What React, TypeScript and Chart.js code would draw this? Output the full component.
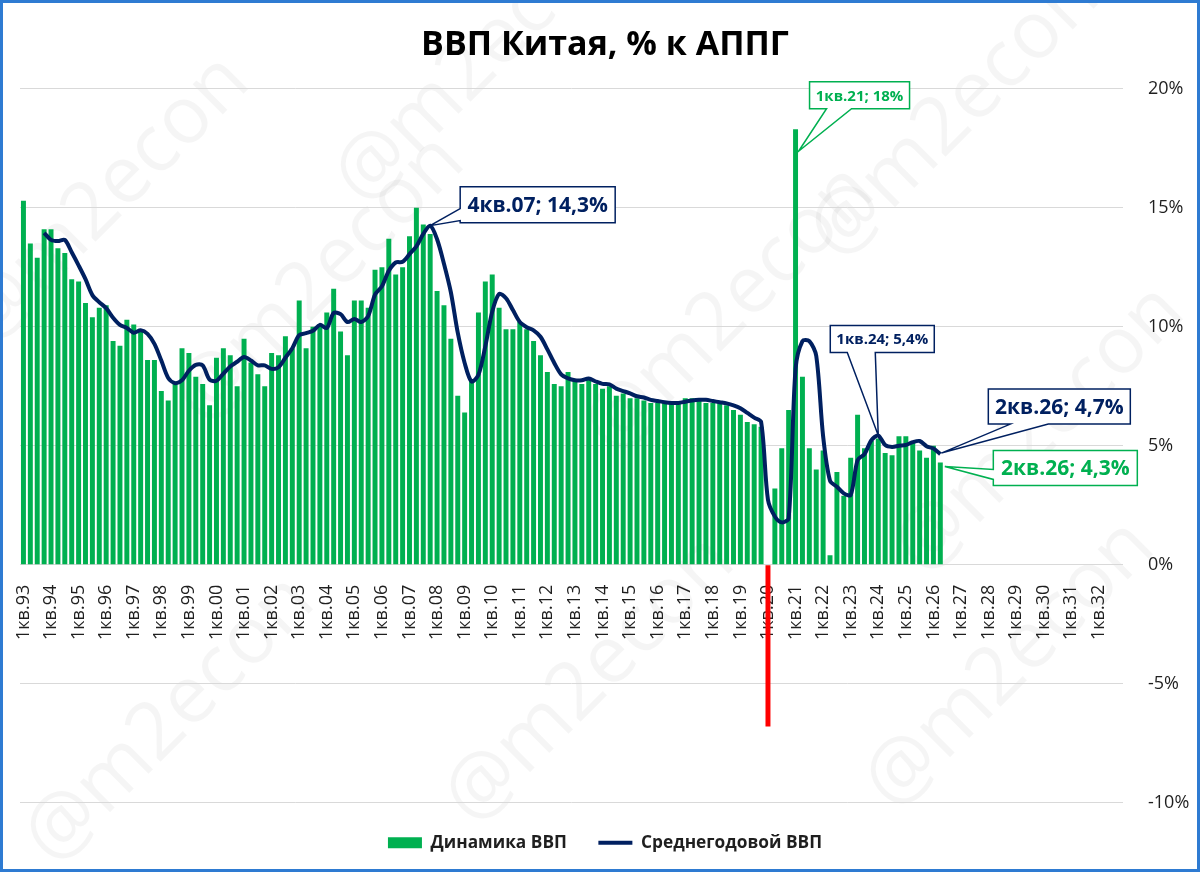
import React, { useEffect, useRef } from "react";
import { Chart, registerables } from "chart.js";

Chart.register(...registerables);

// ---------------- data ----------------
const TITLE = "ВВП Китая, % к АППГ";
const SERIES_NAMES = ["Динамика ВВП", "Среднегодовой ВВП"];
const YEARS = [
  "93", "94", "95", "96", "97", "98", "99", "00", "01", "02",
  "03", "04", "05", "06", "07", "08", "09", "10", "11", "12",
  "13", "14", "15", "16", "17", "18", "19", "20", "21", "22",
  "23", "24", "25", "26", "27", "28", "29", "30", "31", "32",
];
const QUARTERS = ["1кв.", "2кв.", "3кв.", "4кв."];
const HIGHLIGHT_LABEL = "1кв.20";
const Y_TICKS = [-10, -5, 0, 5, 10, 15, 20];

// GDP, % y/y (quarterly), 1кв.93 .. 2кв.26
const GDP_YOY = [
  15.3, 13.5, 12.9, 14.1, // 93
  14.1, 13.3, 13.1, 12.0, // 94
  11.9, 11.0, 10.4, 10.8, // 95
  10.9, 9.4, 9.2, 10.3, // 96
  10.1, 9.8, 8.6, 8.6, // 97
  7.3, 6.9, 7.7, 9.1, // 98
  8.9, 7.9, 7.6, 6.7, // 99
  8.7, 9.1, 8.8, 7.5, // 00
  9.5, 8.5, 8.0, 7.5, // 01
  8.9, 8.8, 9.6, 9.1, // 02
  11.1, 9.1, 10.0, 10.1, // 03
  10.6, 11.6, 9.8, 8.8, // 04
  11.1, 11.1, 10.8, 12.4, // 05
  12.5, 13.7, 12.2, 12.5, // 06
  13.8, 15.0, 14.3, 13.9, // 07
  11.5, 10.9, 9.5, 7.1, // 08
  6.4, 7.8, 10.6, 11.9, // 09
  12.2, 10.8, 9.9, 9.9, // 10
  10.2, 9.9, 9.4, 8.8, // 11
  8.1, 7.6, 7.5, 8.1, // 12
  7.8, 7.6, 7.8, 7.6, // 13
  7.4, 7.5, 7.1, 7.2, // 14
  7.0, 7.0, 6.9, 6.8, // 15
  6.8, 6.8, 6.8, 6.8, // 16
  7.0, 7.0, 6.9, 6.8, // 17
  6.8, 6.8, 6.7, 6.5, // 18
  6.3, 6.0, 5.9, 5.8, // 19
  -6.8, 3.2, 4.9, 6.5, // 20
  18.3, 7.9, 4.9, 4.0, // 21
  4.8, 0.4, 3.9, 2.9, // 22
  4.5, 6.3, 4.9, 5.2, // 23
  5.3, 4.7, 4.6, 5.4, // 24
  5.4, 5.2, 4.8, 4.5, // 25
  5.0, 4.3, // 26
];

// Average annual GDP (4-quarter average line), 4кв.93 .. 2кв.26
const GDP_AVG = [
  null, null, null, 13.95, // 93
  13.65, 13.6, 13.65, 13.13, // 94
  12.58, 12.0, 11.33, 11.03, // 95
  10.78, 10.38, 10.08, 9.95, // 96
  9.75, 9.85, 9.7, 9.28, // 97
  8.58, 7.85, 7.63, 7.75, // 98
  8.15, 8.4, 8.38, 7.78, // 99
  7.73, 8.03, 8.33, 8.53, // 00
  8.73, 8.58, 8.38, 8.38, // 01
  8.23, 8.3, 8.7, 9.1, // 02
  9.65, 9.73, 9.83, 10.08, // 03
  9.95, 10.58, 10.53, 10.2, // 04
  10.33, 10.2, 10.45, 11.35, // 05
  11.7, 12.35, 12.7, 12.73, // 06
  13.05, 13.38, 13.9, 14.25, // 07
  13.68, 12.65, 11.45, 9.75, // 08
  8.48, 7.7, 7.98, 9.18, // 09
  10.63, 11.38, 11.2, 10.7, // 10
  10.2, 9.98, 9.85, 9.58, // 11
  9.05, 8.48, 8.0, 7.83, // 12
  7.75, 7.75, 7.83, 7.7, // 13
  7.6, 7.58, 7.4, 7.3, // 14
  7.2, 7.08, 7.03, 6.93, // 15
  6.88, 6.83, 6.8, 6.8, // 16
  6.85, 6.9, 6.93, 6.93, // 17
  6.88, 6.83, 6.78, 6.7, // 18
  6.58, 6.38, 6.18, 6.0, // 19
  2.73, 2.03, 1.78, 1.95, // 20
  8.23, 9.4, 9.4, 8.78, // 21
  5.4, 3.53, 3.28, 3.0, // 22
  2.93, 4.4, 4.65, 5.23, // 23
  5.43, 5.03, 4.95, 5.0, // 24
  5.03, 5.15, 5.2, 4.98, // 25
  4.88, 4.65, // 26
];

const CALLOUTS = [
  { dataset: 0, label: "1кв.21", text: "1кв.21; 18%", series: "bar" },
  { dataset: 1, label: "4кв.07", text: "4кв.07; 14,3%", series: "line" },
  { dataset: 1, label: "1кв.24", text: "1кв.24; 5,4%", series: "line" },
  { dataset: 1, label: "2кв.26", text: "2кв.26; 4,7%", series: "line" },
  { dataset: 0, label: "2кв.26", text: "2кв.26; 4,3%", series: "bar" },
];

// ---------------- styling / layout ----------------
const FONT = '"Open Sans", "Noto Sans", "DejaVu Sans", sans-serif';
const GREEN = "#00b050";
const NAVY = "#002060";
const RED = "#ff0000";
const GRID = "#d9d9d9";
const TEXT = "#1f1f1f";
const FRAME = "#2e7bd2";

const CALLOUT_LAYOUT = [
  { dx: 14, dy: -47.5, w: 100, h: 27, size: 15, edge: "bottom", b1: 17, b2: 42, tdx: 3, tdy: 22 },
  { dx: 30, dy: -39, w: 155, h: 36, size: 21, edge: "left", b1: 22, b2: 34, tdx: 0, tdy: 0 },
  { dx: -48, dy: -110, w: 104, h: 27, size: 15, edge: "bottom", b1: 17, b2: 45, tdx: 0, tdy: 0 },
  { dx: 48, dy: -65, w: 142, h: 35, size: 21, edge: "bottom", b1: 22, b2: 60, tdx: 1, tdy: -1 },
  { dx: 53, dy: -12, w: 144, h: 35, size: 21, edge: "left", b1: 19, b2: 29, tdx: 4.5, tdy: 4 },
];

const WATERMARK_TEXT = "@m2econ";
const WATERMARKS = [
  [105, 200], [480, 60], [955, 115],
  [320, 280], [730, 310], [1040, 430],
  [170, 720], [590, 680], [1010, 665],
];

const LABELS: string[] = [];
YEARS.forEach((y) => QUARTERS.forEach((q) => LABELS.push(q + y)));

const framePlugin = {
  id: "frame",
  beforeDraw(chart: any) {
    const { ctx, width, height } = chart;
    ctx.save();
    ctx.fillStyle = "#ffffff";
    ctx.fillRect(0, 0, width, height);
    ctx.font = `80px ${FONT}`;
    ctx.fillStyle = "rgba(0,0,0,0.04)";
    ctx.textAlign = "center";
    ctx.textBaseline = "middle";
    WATERMARKS.forEach(([x, y]) => {
      ctx.save();
      ctx.translate(x, y);
      ctx.rotate(-Math.PI / 4);
      ctx.fillText(WATERMARK_TEXT, 0, 0);
      ctx.restore();
    });
    ctx.restore();
  },
  afterDraw(chart: any) {
    const { ctx, width, height } = chart;
    ctx.save();
    ctx.strokeStyle = FRAME;
    ctx.lineWidth = 3;
    ctx.strokeRect(1.5, 1.5, width - 3, height - 3);
    ctx.restore();
  },
};

const calloutPlugin = {
  id: "callouts",
  afterDatasetsDraw(chart: any) {
    const { ctx } = chart;
    CALLOUTS.forEach((c, k) => {
      const L = CALLOUT_LAYOUT[k];
      const idx = LABELS.indexOf(c.label);
      const el = chart.getDatasetMeta(c.dataset).data[idx];
      if (!el) return;
      const ax = el.x;
      const ay = el.y;
      const color = c.series === "bar" ? GREEN : NAVY;
      const x = ax + L.dx;
      const y = ay + L.dy;
      const tx = ax + L.tdx;
      const ty = ay + L.tdy;
      ctx.save();
      ctx.beginPath();
      ctx.moveTo(x, y);
      ctx.lineTo(x + L.w, y);
      ctx.lineTo(x + L.w, y + L.h);
      if (L.edge === "bottom") {
        ctx.lineTo(x + L.b2, y + L.h);
        ctx.lineTo(tx, ty);
        ctx.lineTo(x + L.b1, y + L.h);
      }
      ctx.lineTo(x, y + L.h);
      if (L.edge === "left") {
        ctx.lineTo(x, y + L.b2);
        ctx.lineTo(tx, ty);
        ctx.lineTo(x, y + L.b1);
      }
      ctx.closePath();
      ctx.fillStyle = "#ffffff";
      ctx.fill();
      ctx.lineWidth = 1.5;
      ctx.strokeStyle = color;
      ctx.lineJoin = "miter";
      ctx.stroke();
      ctx.fillStyle = color;
      ctx.font = `bold ${L.size}px ${FONT}`;
      ctx.textAlign = "center";
      ctx.textBaseline = "middle";
      ctx.fillText(c.text, x + L.w / 2, y + L.h / 2 + 1);
      ctx.restore();
    });
  },
};

export default function App() {
  const ref = useRef<HTMLCanvasElement | null>(null);

  useEffect(() => {
    if (!ref.current) return;
    document.body.style.margin = "0";
    Chart.defaults.font.family = FONT;
    const chart = new Chart(ref.current, {
      type: "bar",
      data: {
        labels: LABELS,
        datasets: [
          {
            type: "bar",
            label: SERIES_NAMES[0],
            data: GDP_YOY,
            backgroundColor: LABELS.map((l) => (l === HIGHLIGHT_LABEL ? RED : GREEN)),
            borderWidth: 0,
            barPercentage: 0.72,
            categoryPercentage: 1,
            order: 2,
          },
          {
            type: "line",
            label: SERIES_NAMES[1],
            data: GDP_AVG as any,
            borderColor: NAVY,
            backgroundColor: NAVY,
            borderWidth: 4,
            pointRadius: 0,
            tension: 0.3,
            fill: false,
            order: 1,
          },
        ] as any,
      },
      options: {
        responsive: false,
        animation: false,
        devicePixelRatio: 1,
        events: [],
        layout: { padding: { left: 20, right: 10, top: 0, bottom: 10.5 } },
        scales: {
          x: {
            position: { y: 0 } as any,
            offset: true,
            grid: { display: false },
            border: { display: false },
            ticks: {
              autoSkip: false,
              minRotation: 90,
              maxRotation: 90,
              padding: 12,
              color: TEXT,
              font: { size: 18, family: FONT },
              callback: (_v: any, i: number) => (i % 4 === 0 ? LABELS[i] : ""),
            },
          },
          y: {
            position: "right",
            min: Y_TICKS[0],
            max: Y_TICKS[Y_TICKS.length - 1],
            afterBuildTicks: (s: any) => {
              s.ticks = Y_TICKS.map((v) => ({ value: v }));
            },
            afterFit: (s: any) => {
              s.width = 67;
            },
            grid: { color: GRID, lineWidth: 1, drawTicks: false },
            border: { display: false },
            ticks: {
              padding: 25,
              color: TEXT,
              font: { size: 18, family: FONT },
              callback: (v: any) => v + "%",
            },
          },
        },
        plugins: {
          title: {
            display: true,
            text: TITLE,
            color: "#000000",
            font: { size: 34, weight: "bold", family: FONT },
            padding: { top: 25, bottom: 23 },
          },
          legend: {
            position: "bottom",
            labels: {
              usePointStyle: true,
              pointStyleWidth: 34,
              boxHeight: 11,
              padding: 31.5,
              color: TEXT,
              font: { size: 17.3, weight: "bold", family: FONT },
              generateLabels: () => [
                {
                  text: SERIES_NAMES[0],
                  fillStyle: GREEN,
                  strokeStyle: GREEN,
                  lineWidth: 0,
                  pointStyle: "rect",
                  datasetIndex: 0,
                  hidden: false,
                  fontColor: TEXT,
                },
                {
                  text: SERIES_NAMES[1],
                  fillStyle: NAVY,
                  strokeStyle: NAVY,
                  lineWidth: 4,
                  pointStyle: "line",
                  datasetIndex: 1,
                  hidden: false,
                  fontColor: TEXT,
                },
              ],
            },
          },
          tooltip: { enabled: false },
        },
      } as any,
      plugins: [framePlugin, calloutPlugin],
    });
    return () => chart.destroy();
  }, []);

  return (
    <div style={{ position: "fixed", left: 0, top: 0, width: 1200, height: 872 }}>
      <canvas ref={ref} width={1200} height={872} style={{ display: "block" }} />
    </div>
  );
}
